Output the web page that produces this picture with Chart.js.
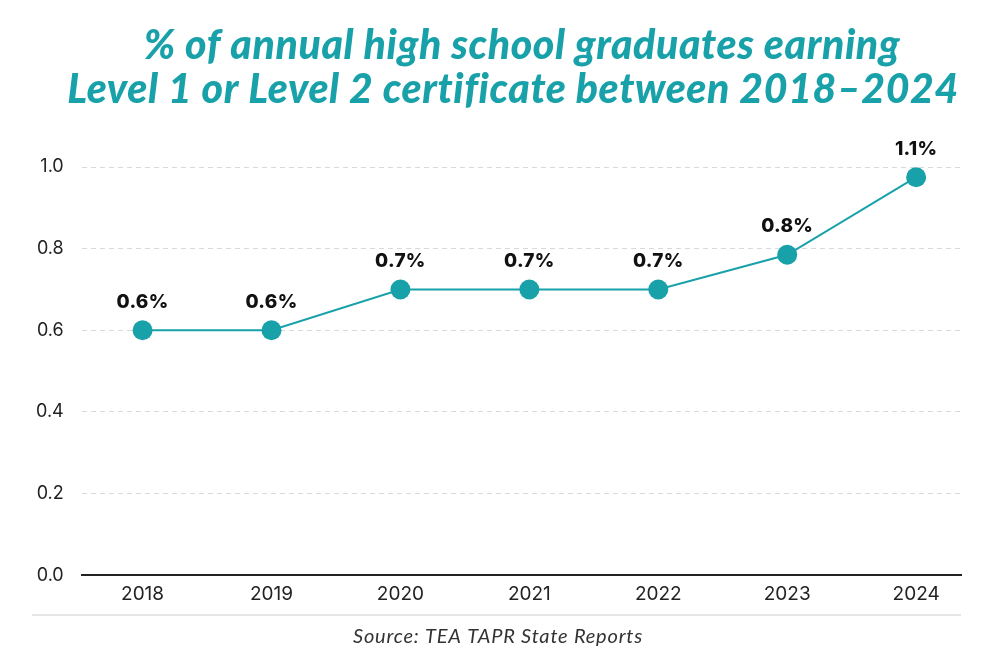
<!DOCTYPE html>
<html>
<head>
<meta charset="utf-8">
<script src="https://cdn.jsdelivr.net/npm/chart.js@4.4.1/dist/chart.umd.min.js"></script>
<style>
html,body{margin:0;padding:0;background:#fff;}
#wrap{width:994px;height:663px;position:relative;}
</style>
</head>
<body>
<div id="wrap"><canvas id="c"></canvas></div>
<script>
const years = [2018, 2019, 2020, 2021, 2022, 2023, 2024];
const values = [0.6, 0.6, 0.7, 0.7, 0.7, 0.785, 0.975];
const pointLabels = ['0.6%', '0.6%', '0.7%', '0.7%', '0.7%', '0.8%', '1.1%'];
const yTicks = [0, 0.2, 0.4, 0.6, 0.8, 1.0];
const titleLines = ['% of annual high school graduates earning', 'Level 1 or Level 2 certificate between 2018\u20132024'];
const sourceText = 'Source: TEA TAPR State Reports';

const TEAL = '#19a1aa';
const FONT = 'Inter, "DejaVu Sans", sans-serif';

const decor = {
  id: 'decor',
  afterDatasetsDraw(chart) {
    const ctx = chart.ctx;
    const meta = chart.getDatasetMeta(0);
    ctx.save();
    ctx.fillStyle = '#111';
    ctx.font = '800 19px ' + FONT;
    ctx.letterSpacing = '0.3px';
    ctx.textAlign = 'center';
    ctx.textBaseline = 'middle';
    meta.data.forEach((pt, i) => {
      ctx.fillText(pointLabels[i], pt.x, pt.y - 28);
    });
    ctx.restore();
  },
  afterDraw(chart) {
    const ctx = chart.ctx;
    const ca = chart.chartArea;
    ctx.save();
    // title
    ctx.fillStyle = TEAL;
    ctx.font = 'italic 900 41px Lato, sans-serif';
    ctx.letterSpacing = '0.6px';
    ctx.textAlign = 'center';
    ctx.textBaseline = 'alphabetic';
    ctx.fillText(titleLines[0], 522, 59);
    ctx.fillText(titleLines[1], 513, 103);
    // separator
    ctx.strokeStyle = '#dddddd';
    ctx.lineWidth = 1.5;
    ctx.beginPath();
    ctx.moveTo(32, 615);
    ctx.lineTo(ca.right, 615);
    ctx.stroke();
    // source
    ctx.fillStyle = '#333';
    ctx.font = 'italic 400 20px Lato, sans-serif';
    ctx.letterSpacing = '0.8px';
    ctx.textBaseline = 'middle';
    ctx.fillText(sourceText, 498, 637);
    ctx.restore();
  }
};

new Chart(document.getElementById('c'), {
  type: 'line',
  data: {
    datasets: [{
      data: years.map((y, i) => ({ x: y, y: values[i] })),
      borderColor: TEAL,
      backgroundColor: TEAL,
      borderWidth: 2,
      pointRadius: 10,
      pointHoverRadius: 10,
      pointBorderWidth: 0,
      pointBackgroundColor: TEAL,
      tension: 0,
      clip: false
    }]
  },
  options: {
    responsive: true,
    maintainAspectRatio: false,
    animation: false,
    layout: { padding: { top: 167, right: 33, bottom: 49, left: 18 } },
    plugins: { legend: { display: false }, tooltip: { enabled: false } },
    scales: {
      x: {
        type: 'linear',
        min: 2017.528,
        max: 2024.348,
        afterBuildTicks(scale) { scale.ticks = years.map(v => ({ value: v })); },
        grid: { display: false, drawTicks: false },
        border: { display: true, color: '#222', width: 2 },
        ticks: {
          autoSkip: false,
          maxRotation: 0,
          padding: 8,
          color: '#222',
          font: { family: FONT, size: 19 },
          callback: v => String(v)
        }
      },
      y: {
        min: 0,
        max: 1,
        afterBuildTicks(scale) { scale.ticks = yTicks.map(v => ({ value: v })); },
        grid: { color: '#d9d9d9', drawTicks: false, lineWidth: 1 },
        border: { display: false, dash: [5, 4] },
        ticks: {
          padding: 18,
          color: '#222',
          font: { family: FONT, size: 18 },
          callback: v => v.toFixed(1)
        }
      }
    }
  },
  plugins: [decor]
});
</script>
</body>
</html>
